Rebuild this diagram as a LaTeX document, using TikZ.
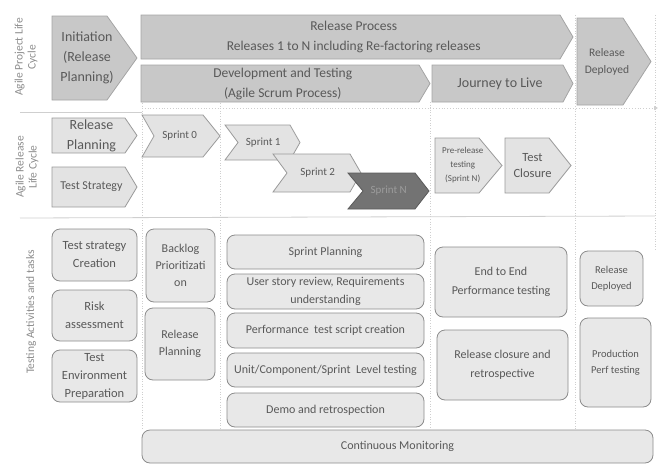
\documentclass[tikz,border=0pt]{standalone}
\usepackage{fontspec}
\setmainfont{Carlito}
\usetikzlibrary{arrows.meta}
\definecolor{topfill}{HTML}{C8C8C8}
\definecolor{topdraw}{HTML}{A4A4A4}
\definecolor{midfill}{HTML}{E3E3E3}
\definecolor{middraw}{HTML}{9A9A9A}
\definecolor{darkfill}{HTML}{737373}
\definecolor{darkdraw}{HTML}{5A5A5A}
\definecolor{darktxt}{HTML}{9C9C9C}
\definecolor{boxfill}{HTML}{E8E8E8}
\definecolor{boxdraw}{HTML}{8C8C8C}
\definecolor{txtc}{HTML}{595959}
\definecolor{lblc}{HTML}{8C8C8C}
\definecolor{gridc}{HTML}{CFCFCF}
\newcommand\chevshape[9]{%
  \draw[#1] (#3,#4) -- ({#5-#7},#4) -- (#5,{(#4+#6)/2}) -- ({#5-#7},#6) -- (#3,#6) -- ({#3+#8},{(#4+#6)/2}) -- cycle;
  \node[txt,#2] at ({(#3+#8/2+#5-#7/2)/2},{(#4+#6)/2}) {#9};}
\newcommand\rbox[6]{%
  \draw[boxst] (#2,#3) rectangle (#4,#5);
  \node[txt,#1] at ({(#2+#4)/2},{(#3+#5)/2}) {#6};}
\begin{document}
\begin{tikzpicture}[x=1pt,y=-1pt,
  txt/.style={text=txtc, align=center, inner sep=0pt},
  topst/.style={fill=topfill, draw=topdraw, line width=0.8pt},
  midst/.style={fill=midfill, draw=middraw, line width=0.8pt},
  darkst/.style={fill=darkfill, draw=darkdraw, line width=0.8pt},
  boxst/.style={fill=boxfill, draw=boxdraw, line width=0.8pt, rounded corners=8pt},
  grid/.style={draw=gridc, dotted, line width=0.6pt},
  hline/.style={draw=gridc, line width=0.8pt},
  lbl/.style={text=lblc, align=center, inner sep=0pt, rotate=90, font=\fontsize{11.5}{13}\selectfont},
  fA/.style={font=\fontsize{14}{20}\selectfont},
  fA2/.style={font=\fontsize{13.5}{20}\selectfont},
  fTop/.style={font=\fontsize{11.5}{17}\selectfont},
  fSp/.style={font=\fontsize{11}{13}\selectfont},
  fPre/.style={font=\fontsize{9}{14}\selectfont},
  fTC/.style={font=\fontsize{12.5}{16}\selectfont},
  fMid/.style={font=\fontsize{12}{16}\selectfont},
  fL/.style={font=\fontsize{12.5}{18}\selectfont},
  fBk/.style={font=\fontsize{12}{17}\selectfont},
  fS/.style={font=\fontsize{12}{18}\selectfont},
  fE/.style={font=\fontsize{12}{19}\selectfont},
  fR/.style={font=\fontsize{10.5}{16}\selectfont},
]
\useasboundingbox (0,0) rectangle (662,464);
% grid lines
\draw[grid] (142,103) -- (142,430);
\draw[grid] (220,103) -- (220,430);
\draw[grid] (430,102) -- (430,430);
\draw[grid] (575,15) -- (575,430);
\draw[grid] (655,15) -- (655,250);
\coordinate (h1a) at (20,112);
\coordinate (h1b) at (658,108);
\draw[hline] (h1a) -- (142,112);
\draw[hline,dotted,-{Triangle[length=4pt,width=4pt]}] (142,108) -- (h1b);
\coordinate (h2a) at (20,218);
\coordinate (h2b) at (655,216);
\draw[hline] (h2a) -- (h2b);
% side labels
\node[lbl] (l1) at (26,57) {Agile Project Life\\Cycle};
\node[lbl] (l2) at (27,167) {Agile Release\\Life Cycle};
\node[lbl] (l3) at (31,312) {Testing Activities and tasks};
% top row
\chevshape{topst}{name=init,fA}{52}{16}{137}{100}{30}{0}{Initiation\\(Release\\Planning)}
\chevshape{topst}{name=relproc,fA2}{141}{15}{573}{59}{13}{0}{Release Process\\Releases 1 to N including Re-factoring releases}
\chevshape{topst}{name=devtest,fA2}{141}{65}{430}{102}{11}{0}{Development and Testing\\(Agile Scrum Process)}
\chevshape{topst}{name=journey,fA}{432}{65}{573}{102}{10}{0}{Journey to Live}
\chevshape{topst}{name=reldep,fTop}{577}{18}{651}{105}{28}{0}{Release\\Deployed}
% middle row
\chevshape{midst}{name=mrelplan,fA}{52}{118}{137}{153}{12}{0}{Release\\Planning}
\chevshape{midst}{name=tstrat,fMid}{52}{167}{137}{207}{12}{0}{Test Strategy}
\chevshape{midst}{name=sp0,fSp}{142}{115}{220}{157}{17}{12}{Sprint 0}
\chevshape{midst}{name=sp1,fSp}{225}{125}{300}{160}{10}{13}{Sprint 1}
\chevshape{midst}{name=sp2,fSp}{273}{154}{361}{192}{11}{14}{Sprint 2}
\chevshape{darkst}{name=spn,fSp,text=darktxt}{348}{173}{429}{209}{14}{15}{Sprint N}
\chevshape{midst}{name=prerel,fPre}{435}{138}{502}{193}{23}{0}{Pre-release\\testing\\(Sprint N)}
\chevshape{midst}{name=tclose,fTC}{505}{138}{571}{193}{22}{0}{Test\\Closure}
% bottom row
\rbox{name=tsc,fL}{52}{229}{137}{281}{Test strategy\\Creation}
\rbox{name=risk,fL}{52}{290}{137}{341}{Risk\\assessment}
\rbox{name=tep,fL}{52}{350}{137}{402}{Test\\Environment\\Preparation}
\rbox{name=backlog,fBk}{146}{229}{215}{302}{Backlog\\Prioritizati\\on}
\rbox{name=brelplan,fBk}{145}{308}{215}{380}{Release\\Planning}
\rbox{name=spplan,fS}{227}{235}{424}{269}{Sprint Planning}
\rbox{name=usr,fS}{227}{274}{424}{309}{User story review, Requirements\\understanding}
\rbox{name=pts,fS}{227}{313}{424}{348}{Performance\ \ test script creation}
\rbox{name=unit,fS}{227}{353}{424}{387}{Unit/Component/Sprint\ \ Level testing}
\rbox{name=demo,fS}{227}{393}{424}{427}{Demo and retrospection}
\rbox{name=e2e,fE}{435}{247}{567}{317}{End to End\\Performance testing}
\rbox{name=rcr,fE}{437}{330}{568}{400}{Release closure and\\retrospective}
\rbox{name=rdep,fR}{580}{251}{643}{306}{Release\\Deployed}
\rbox{name=ppt,fR}{580}{318}{651}{407}{Production\\Perf testing}
\rbox{name=cmon,fS}{142}{430}{653}{463}{Continuous Monitoring}
\end{tikzpicture}
\end{document}
